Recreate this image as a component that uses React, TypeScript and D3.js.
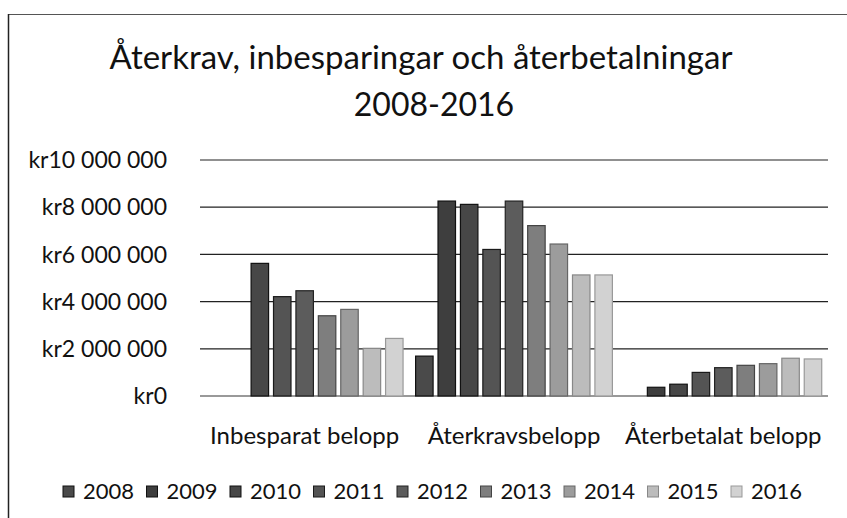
import React from 'react';
import * as d3 from 'd3';

// Chart data (kr)
const categories = ['Inbesparat belopp', 'Återkravsbelopp', 'Återbetalat belopp'];
const years = ['2008', '2009', '2010', '2011', '2012', '2013', '2014', '2015', '2016'];
const v2008 = [0, 1690000, 0];
const v2009 = [0, 8260000, 370000];
const v2010 = [5620000, 8120000, 500000];
const v2011 = [4210000, 6210000, 1000000];
const v2012 = [4460000, 8260000, 1200000];
const v2013 = [3400000, 7220000, 1300000];
const v2014 = [3670000, 6440000, 1370000];
const v2015 = [2020000, 5130000, 1600000];
const v2016 = [2440000, 5130000, 1570000];
const yTicks = [0, 2000000, 4000000, 6000000, 8000000, 10000000];

const seriesValues = [v2008, v2009, v2010, v2011, v2012, v2013, v2014, v2015, v2016];
const fills = ['#4a4a4a', '#3e3e3e', '#474747', '#545454', '#5c5c5c', '#7e7e7e', '#9c9c9c', '#bcbcbc', '#d2d2d2'];
const strokes = ['#111', '#111', '#111', '#1a1a1a', '#222', '#444', '#666', '#888', '#999'];

const W = 847;
const H = 518;
const FONT = 'Lato, "Open Sans", sans-serif';

const kr = d3.formatLocale({
  decimal: ',',
  thousands: '\u00a0',
  grouping: [3],
  currency: ['kr', ''],
}).format('$,.0f');

export default function App() {
  const plot = { left: 200, right: 828, top: 160, bottom: 396 };

  const x0 = d3.scaleBand<string>().domain(categories).range([plot.left, plot.right]);
  const x1 = d3.scaleBand<string>()
    .domain(years)
    .range([0, x0.bandwidth()])
    .paddingInner(0.22)
    .paddingOuter(0.28);
  const y = d3.scaleLinear().domain([0, 10000000]).range([plot.bottom, plot.top]);

  const legendX = d3.scalePoint<string>().domain(years).range([63, 731]);

  return (
    <svg
      width={W}
      height={H}
      style={{ position: 'absolute', left: 0, top: 0, background: '#fff' }}
      fontFamily={FONT}
    >
      {/* frame (right/bottom edges fall outside the scan) */}
      <line x1={8} x2={W} y1={14.5} y2={14.5} stroke="#555" strokeWidth={1.2} />
      <line x1={8.5} x2={8.5} y1={14} y2={H} stroke="#222" strokeWidth={1.5} />

      {/* title */}
      <text x={421} y={69} textAnchor="middle" fontSize={33} fill="#111">
        Återkrav, inbesparingar och återbetalningar
      </text>
      <text x={434} y={116} textAnchor="middle" fontSize={32} fill="#111">
        2008-2016
      </text>

      {/* grid + y labels */}
      {yTicks.map((t) => (
        <g key={t}>
          <line
            x1={plot.left}
            x2={plot.right}
            y1={y(t)}
            y2={y(t)}
            stroke={t === 0 ? '#777' : '#222'}
            strokeWidth={t === 0 ? 1.5 : 1.2}
          />
          <text x={167} y={y(t)} dy="0.36em" textAnchor="end" fontSize={23} fill="#111">
            {kr(t)}
          </text>
        </g>
      ))}

      {/* bars */}
      {seriesValues.map((vals, si) => (
        <g key={years[si]}>
          {vals.map((v, ci) =>
            v > 0 ? (
              <rect
                key={ci}
                x={(x0(categories[ci]) ?? 0) + (x1(years[si]) ?? 0)}
                y={y(v)}
                width={x1.bandwidth()}
                height={y(0) - y(v)}
                fill={fills[si]}
                stroke={strokes[si]}
                strokeWidth={1.2}
              />
            ) : null
          )}
        </g>
      ))}

      {/* category labels */}
      {categories.map((c) => (
        <text
          key={c}
          x={(x0(c) ?? 0) + x0.bandwidth() / 2}
          y={444}
          textAnchor="middle"
          fontSize={24}
          fill="#111"
        >
          {c}
        </text>
      ))}

      {/* legend */}
      {years.map((yr, i) => (
        <g key={yr} transform={`translate(${legendX(yr)},0)`}>
          <rect x={0} y={486} width={11} height={11} fill={fills[i]} stroke={strokes[i]} strokeWidth={1} />
          <text x={20} y={499} fontSize={22} fill="#111">
            {yr}
          </text>
        </g>
      ))}
    </svg>
  );
}
